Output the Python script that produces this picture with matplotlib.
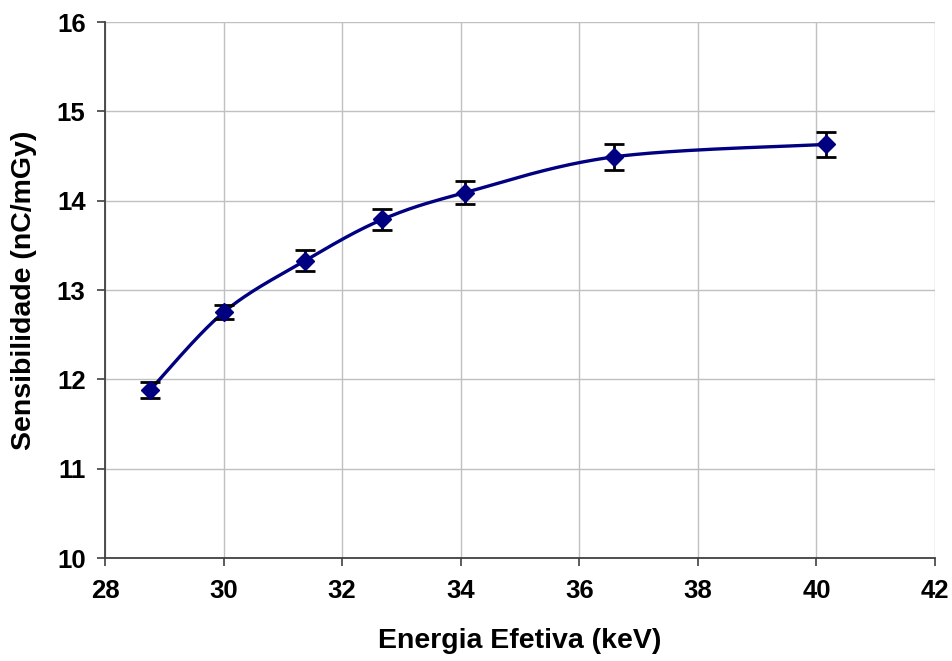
import numpy as np
import matplotlib.pyplot as plt

# measured points (effective energy vs sensitivity)
energia = [28.76, 30.0, 31.38, 32.68, 34.07, 36.58, 40.16]
sensibilidade = [11.88, 12.75, 13.33, 13.79, 14.09, 14.49, 14.63]
erro = [0.09, 0.08, 0.12, 0.12, 0.13, 0.15, 0.14]

x_ticks = [28, 30, 32, 34, 36, 38, 40, 42]
y_ticks = [10, 11, 12, 13, 14, 15, 16]


def smooth_curve(x, y, n=40):
    # Excel-style smoothed line: cubic Bezier segments with Catmull-Rom tangents
    x = np.asarray(x, float)
    y = np.asarray(y, float)
    px = np.concatenate([[x[0]], x, [x[-1]]])
    py = np.concatenate([[y[0]], y, [y[-1]]])
    t = np.linspace(0, 1, n)
    xs, ys = [], []
    for i in range(1, len(px) - 2):
        p0 = np.array([px[i], py[i]])
        p3 = np.array([px[i + 1], py[i + 1]])
        c1 = p0 + (p3 - np.array([px[i - 1], py[i - 1]])) / 6
        c2 = p3 - (np.array([px[i + 2], py[i + 2]]) - p0) / 6
        b = ((1 - t) ** 3)[:, None] * p0 + (3 * (1 - t) ** 2 * t)[:, None] * c1 \
            + (3 * (1 - t) * t ** 2)[:, None] * c2 + (t ** 3)[:, None] * p3
        xs.append(b[:, 0])
        ys.append(b[:, 1])
    return np.concatenate(xs), np.concatenate(ys)


def main():
    plt.rcParams['font.family'] = ['Liberation Sans', 'DejaVu Sans']
    plt.rcParams['font.weight'] = 'bold'

    fig = plt.figure(figsize=(9.52, 6.61), dpi=100)
    ax = fig.add_axes([0.1103, 0.1558, 0.8718, 0.8109])

    sx, sy = smooth_curve(energia, sensibilidade)
    ax.plot(sx, sy, color='#000080', lw=2.4, zorder=3)
    ax.errorbar(energia, sensibilidade, yerr=erro, fmt='none', ecolor='black',
                elinewidth=2, capsize=7.5, capthick=2, zorder=4)
    ax.plot(energia, sensibilidade, 'D', color='#000080', markersize=9.5, zorder=5)

    ax.set_xlim(28, 42)
    ax.set_ylim(10, 16)
    ax.set_xticks(x_ticks)
    ax.set_yticks(y_ticks)
    ax.grid(True, color='#c0c0c0', lw=1)
    ax.set_axisbelow(True)

    for s in ['top', 'right']:
        ax.spines[s].set_visible(False)
    for s in ['left', 'bottom']:
        ax.spines[s].set_color('#404040')
        ax.spines[s].set_linewidth(1.3)

    ax.tick_params(direction='out', length=6, width=1.2, color='#404040',
                   labelsize=18.5, pad=8)
    ax.tick_params(axis='x', pad=9)
    for lab in ax.get_xticklabels() + ax.get_yticklabels():
        lab.set_fontweight('bold')

    ax.set_xlabel('Energia Efetiva (keV)', fontsize=20.5, fontweight='bold', labelpad=18)
    ax.set_ylabel('Sensibilidade (nC/mGy)', fontsize=20.5, fontweight='bold', labelpad=14)

    fig.savefig('out.png', dpi=100)


if __name__ == '__main__':
    main()
